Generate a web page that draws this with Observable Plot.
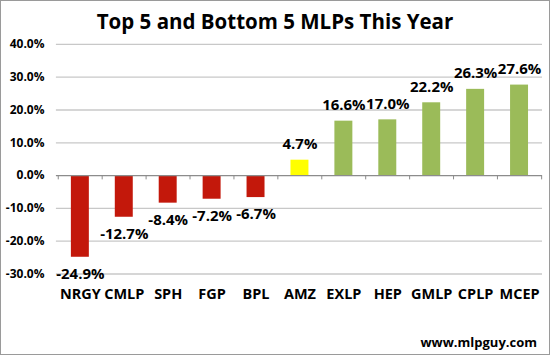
<!DOCTYPE html>
<html>
<head>
<meta charset="utf-8">
<script src="https://cdn.jsdelivr.net/npm/d3@7"></script>
<script src="https://cdn.jsdelivr.net/npm/@observablehq/plot@0.6"></script>
<style>
  html, body { margin: 0; padding: 0; background: #fff; }
  #wrap { position: relative; width: 550px; height: 355px; box-sizing: border-box; border: 1px solid #9a9a9a; overflow: hidden; font-family: "Open Sans", sans-serif; }
  #title { position: absolute; top: 6px; left: 0; width: 548px; text-align: center; font-weight: bold; font-size: 20.5px; color: #000; }
  #credit { position: absolute; right: 12px; top: 332px; font-weight: bold; font-size: 13px; color: #000; }
  #chart { position: absolute; left: -1px; top: -1px; }
</style>
</head>
<body>
<div id="wrap">
  <div id="chart"></div>
  <div id="title">Top 5 and Bottom 5 MLPs This Year</div>
  <div id="credit">www.mlpguy.com</div>
</div>
<script>
const categories = ["NRGY", "CMLP", "SPH", "FGP", "BPL", "AMZ", "EXLP", "HEP", "GMLP", "CPLP", "MCEP"];
const values = [-24.9, -12.7, -8.4, -7.2, -6.7, 4.7, 16.6, 17.0, 22.2, 26.3, 27.6];
const groups = ["bottom", "bottom", "bottom", "bottom", "bottom", "mid", "top", "top", "top", "top", "top"];
const yTicks = [-30, -20, -10, 0, 10, 20, 30, 40];

const data = categories.map((c, i) => ({ name: c, value: values[i], group: groups[i] }));

const W = 550, H = 355;
const mL = 56, mR = 7, mT = 44, mB = 81;
const step = (W - mL - mR) / categories.length;
const fmt = d => d.toFixed(1) + "%";

const chart = Plot.plot({
  width: W,
  height: H,
  marginLeft: mL,
  marginRight: mR,
  marginTop: mT,
  marginBottom: mB,
  style: { fontFamily: "Open Sans, sans-serif", background: "transparent", color: "#000" },
  x: { domain: categories, paddingInner: 0.6, paddingOuter: 0.3, label: null },
  y: { domain: [-30, 40], label: null },
  color: { domain: ["bottom", "mid", "top"], range: ["#c3180b", "#ffff00", "#9bbb59"] },
  marks: [
    Plot.ruleY(yTicks.filter(d => d !== 0), { stroke: "#c8c8c8", strokeWidth: 1.3, strokeOpacity: 1 }),
    Plot.axisY(yTicks, { tickSize: 0, tickPadding: 12, tickFormat: fmt, fontSize: 12, fontWeight: "bold", label: null }),
    Plot.axisX({ tickSize: 0, tickPadding: 15, fontSize: 14.5, fontWeight: "bold", label: null }),
    Plot.barY(data, { x: "name", y: "value", fill: "group" }),
    Plot.ruleY([0], { stroke: "#8c8c8c", strokeWidth: 1.3 }),
    Plot.ruleX(categories, { x: d => d, y1: 0, y2: -1.3, dx: -step / 2, stroke: "#8c8c8c" }),
    Plot.ruleX(categories.slice(-1), { x: d => d, y1: 0, y2: -1.3, dx: step / 2, stroke: "#8c8c8c" }),
    Plot.text(data.filter(d => d.value < 0), {
      x: "name", y: "value", text: d => fmt(d.value), dy: 17,
      fontSize: 15, fontWeight: "bold", fill: "#000"
    }),
    Plot.text(data.filter(d => d.value >= 0), {
      x: "name", y: "value", text: d => fmt(d.value), dy: -16,
      fontSize: 15, fontWeight: "bold", fill: "#000"
    })
  ]
});
document.getElementById("chart").appendChild(chart);
</script>
</body>
</html>
